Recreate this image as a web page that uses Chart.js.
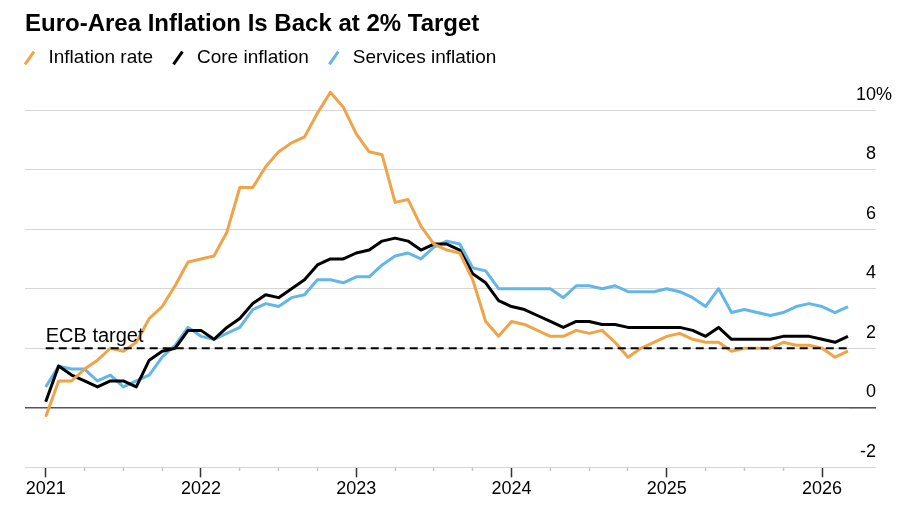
<!DOCTYPE html>
<html>
<head>
<meta charset="utf-8">
<title>Euro-Area Inflation Is Back at 2% Target</title>
<script src="https://cdn.jsdelivr.net/npm/chart.js@4.4.1/dist/chart.umd.min.js"></script>
<style>
  html, body { margin: 0; padding: 0; background: #fff; }
  #wrap { position: relative; width: 900px; height: 510px; }
  #chart { position: absolute; left: 0; top: 0; }
  h1 {
    position: absolute; left: 25px; top: 11px; margin: 0;
    font: bold 24px/24px "Liberation Sans", Arial, Helvetica, sans-serif;
    color: #000; white-space: nowrap;
  }
</style>
</head>
<body>
<div id="wrap">
  <canvas id="chart" width="900" height="510"></canvas>
  <h1>Euro-Area Inflation Is Back at 2% Target</h1>
</div>
<script>
// monthly y/y rates, Dec 2020 .. Feb 2026 (plotted at month end)
const MONTHS = [
  'Dec 2020',
  'Jan 2021', 'Feb 2021', 'Mar 2021', 'Apr 2021', 'May 2021', 'Jun 2021',
  'Jul 2021', 'Aug 2021', 'Sep 2021', 'Oct 2021', 'Nov 2021', 'Dec 2021',
  'Jan 2022', 'Feb 2022', 'Mar 2022', 'Apr 2022', 'May 2022', 'Jun 2022',
  'Jul 2022', 'Aug 2022', 'Sep 2022', 'Oct 2022', 'Nov 2022', 'Dec 2022',
  'Jan 2023', 'Feb 2023', 'Mar 2023', 'Apr 2023', 'May 2023', 'Jun 2023',
  'Jul 2023', 'Aug 2023', 'Sep 2023', 'Oct 2023', 'Nov 2023', 'Dec 2023',
  'Jan 2024', 'Feb 2024', 'Mar 2024', 'Apr 2024', 'May 2024', 'Jun 2024',
  'Jul 2024', 'Aug 2024', 'Sep 2024', 'Oct 2024', 'Nov 2024', 'Dec 2024',
  'Jan 2025', 'Feb 2025', 'Mar 2025', 'Apr 2025', 'May 2025', 'Jun 2025',
  'Jul 2025', 'Aug 2025', 'Sep 2025', 'Oct 2025', 'Nov 2025', 'Dec 2025',
  'Jan 2026', 'Feb 2026',
];

const INFLATION = [
  -0.3,
  0.9, 0.9, 1.3, 1.6, 2.0, 1.9, 2.2, 3.0, 3.4, 4.1, 4.9, 5.0,
  5.1, 5.9, 7.4, 7.4, 8.1, 8.6, 8.9, 9.1, 9.9, 10.6, 10.1, 9.2,
  8.6, 8.5, 6.9, 7.0, 6.1, 5.5, 5.3, 5.2, 4.3, 2.9, 2.4, 2.9,
  2.8, 2.6, 2.4, 2.4, 2.6, 2.5, 2.6, 2.2, 1.7, 2.0, 2.2, 2.4,
  2.5, 2.3, 2.2, 2.2, 1.9, 2.0, 2.0, 2.0, 2.2, 2.1, 2.1, 2.0,
  1.7, 1.9,
];

const CORE = [
  0.2,
  1.4, 1.1, 0.9, 0.7, 0.9, 0.9, 0.7, 1.6, 1.9, 2.0, 2.6, 2.6,
  2.3, 2.7, 3.0, 3.5, 3.8, 3.7, 4.0, 4.3, 4.8, 5.0, 5.0, 5.2,
  5.3, 5.6, 5.7, 5.6, 5.3, 5.5, 5.5, 5.3, 4.5, 4.2, 3.6, 3.4,
  3.3, 3.1, 2.9, 2.7, 2.9, 2.9, 2.8, 2.8, 2.7, 2.7, 2.7, 2.7,
  2.7, 2.6, 2.4, 2.7, 2.3, 2.3, 2.3, 2.3, 2.4, 2.4, 2.4, 2.3,
  2.2, 2.4,
];

const SERVICES = [
  0.7,
  1.4, 1.3, 1.3, 0.9, 1.1, 0.7, 0.9, 1.1, 1.7, 2.1, 2.7, 2.4,
  2.3, 2.5, 2.7, 3.3, 3.5, 3.4, 3.7, 3.8, 4.3, 4.3, 4.2, 4.4,
  4.4, 4.8, 5.1, 5.2, 5.0, 5.4, 5.6, 5.5, 4.7, 4.6, 4.0, 4.0,
  4.0, 4.0, 4.0, 3.7, 4.1, 4.1, 4.0, 4.1, 3.9, 3.9, 3.9, 4.0,
  3.9, 3.7, 3.4, 4.0, 3.2, 3.3, 3.2, 3.1, 3.2, 3.4, 3.5, 3.4,
  3.2, 3.4,
];

const ECB_TARGET = 2;

const YEAR_LABELS = ['2021', '2022', '2023', '2024', '2025', '2026'];
const QUARTER_TICKS = [0, 3, 6, 9, 12, 15, 18, 21, 24, 27, 30, 33, 36, 39, 42, 45, 48, 51, 54, 57, 60];
const Y_TICKS = [-2, 0, 2, 4, 6, 8, 10];
const Y_MIN = -2;
const Y_MAX = 11.1;

const FONT = '"Liberation Sans", Arial, Helvetica, sans-serif';
const ORANGE = '#f0a447';
const BLACK = '#000000';
const BLUE = '#62b6ea';

function toPoints(values) {
  return values.map((v, i) => ({x: i, y: v}));
}

function lineDataset(label, values, color) {
  return {
    label: label,
    data: toPoints(values),
    borderColor: color,
    backgroundColor: color,
    borderWidth: 3,
    borderJoinStyle: 'round',
    pointRadius: 0,
    pointHoverRadius: 0,
    pointStyle: 'line',
    pointRotation: -55,
    tension: 0,
    clip: false,
    order: 1,
  };
}

function setYTicks(scale) {
  scale.ticks = Y_TICKS.map(v => ({value: v}));
}

const ECB_LABEL = {
  id: 'ecbLabel',
  afterDatasetsDraw(chart) {
    const {ctx, scales: {x, y}} = chart;
    ctx.save();
    ctx.font = '20px ' + FONT;
    ctx.fillStyle = '#000';
    ctx.textAlign = 'left';
    ctx.textBaseline = 'alphabetic';
    ctx.fillText('ECB target', x.getPixelForValue(0), y.getPixelForValue(ECB_TARGET) - 6.5);
    ctx.restore();
  },
};

const CHART = new Chart(document.getElementById('chart'), {
  type: 'line',
  data: {
    datasets: [
      lineDataset('Inflation rate', INFLATION, ORANGE),
      lineDataset('Core inflation', CORE, BLACK),
      lineDataset('Services inflation', SERVICES, BLUE),
      {
        label: 'ECB target',
        data: [{x: 0, y: ECB_TARGET}, {x: MONTHS.length - 1, y: ECB_TARGET}],
        borderColor: BLACK,
        borderWidth: 2,
        borderDash: [8, 5],
        pointRadius: 0,
        clip: false,
        order: 0,
      },
    ],
  },
  options: {
    responsive: false,
    animation: false,
    events: [],
    layout: {
      padding: {left: 4.6, right: 24, top: 33, bottom: 0},
    },
    plugins: {
      tooltip: {enabled: false},
      legend: {
        position: 'top',
        align: 'start',
        labels: {
          usePointStyle: true,
          boxWidth: 19,
          boxHeight: 11,
          padding: 15.4,
          color: '#000',
          font: {family: FONT, size: 19},
          filter: item => item.text !== 'ECB target',
        },
      },
    },
    scales: {
      x: {
        type: 'linear',
        min: -1.6,
        max: 62.08,
        afterBuildTicks: scale => {
          scale.ticks = QUARTER_TICKS.map(v => ({value: v}));
        },
        afterFit: scale => {
          scale.height = 42.7;
        },
        border: {display: false},
        grid: {
          drawOnChartArea: false,
          drawTicks: true,
          tickLength: 10,
          tickWidth: 1.5,
          tickColor: c => (c.tick.value % 12 === 0 ? '#333' : '#c4c4c4'),
          tickBorderDash: c => (c.tick.value % 12 === 0 ? [] : [4, 20]),
        },
        ticks: {
          autoSkip: false,
          maxRotation: 0,
          padding: 1,
          color: '#000',
          font: {family: FONT, size: 18},
          callback: v => (v % 12 === 0 ? YEAR_LABELS[v / 12] : ''),
        },
      },
      y: {
        type: 'linear',
        position: 'right',
        weight: 0,
        min: Y_MIN,
        max: Y_MAX,
        afterBuildTicks: setYTicks,
        afterFit: scale => {
          scale.width = 27;
        },
        border: {display: false},
        grid: {
          color: c => (c.tick.value === 0 ? '#555' : '#d6d6d6'),
          lineWidth: c => (c.tick.value === 0 ? 1.6 : 1),
          drawTicks: true,
          tickLength: 27,
        },
        ticks: {
          mirror: true,
          padding: 27,
          labelOffset: -15.5,
          color: '#000',
          font: {family: FONT, size: 18},
          callback: v => String(v),
        },
      },
      // unit sign of the top label, hanging past the number column
      yUnit: {
        type: 'linear',
        position: 'right',
        weight: 1,
        min: Y_MIN,
        max: Y_MAX,
        afterBuildTicks: setYTicks,
        afterFit: scale => {
          scale.width = 0;
        },
        border: {display: false},
        grid: {display: false},
        ticks: {
          mirror: true,
          padding: 16,
          labelOffset: -15.5,
          color: '#000',
          font: {family: FONT, size: 18},
          callback: v => (v === 10 ? '%' : ''),
        },
      },
      yLeft: {
        type: 'linear',
        position: 'left',
        afterFit: scale => {
          scale.width = 20.4;
        },
        border: {display: false},
        grid: {display: false},
        ticks: {display: false},
      },
    },
  },
  plugins: [ECB_LABEL],
});
</script>
</body>
</html>
